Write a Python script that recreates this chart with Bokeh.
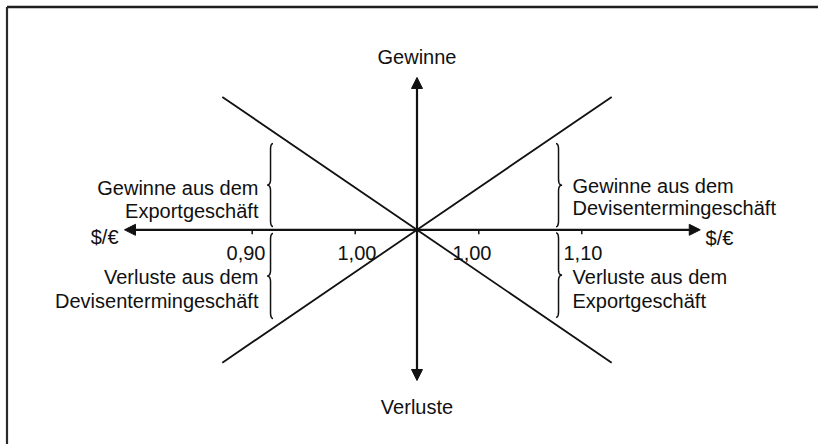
import numpy as np
from bokeh.plotting import figure
from bokeh.models import Range1d, Arrow, NormalHead, ColumnDataSource
from bokeh.embed import file_html
from bokeh.resources import INLINE
from bokeh.core.properties import value

# ---- schematic data (one unit = one 0,10 step of the $/€ rate) ----
tick_labels = ["0,90", "1,00", "1,00", "1,10"]
tick_pos = [-1.6, -0.6, 0.6, 1.6]
tick_label_x = [-1.471, -0.583, 0.534, 1.422]
tick_label_align = ["right", "center", "center", "left"]

# profit/loss lines
export_x = [-1.89, 1.89]
export_y = [1.29, -1.29]
forward_x = [-1.89, 1.89]
forward_y = [-1.29, 1.29]

# axis extents
axis_x = [-2.84, 2.75]
axis_y = [-1.463, 1.479]

# axis titles
axis_titles = ["Gewinne", "Verluste", "$/€", "$/€"]
axis_title_x = [0.0, 0.0, -2.898, 2.801]
axis_title_y = [1.678, -1.722, -0.072, -0.075]
axis_title_align = ["center", "center", "right", "left"]

# area descriptions
area_text = ["Gewinne aus dem", "Exportgeschäft",
             "Gewinne aus dem", "Devisentermingeschäft",
             "Verluste aus dem", "Devisentermingeschäft",
             "Verluste aus dem", "Exportgeschäft"]
area_x = [-1.539, -1.539, 1.510, 1.510, -1.539, -1.539, 1.510, 1.510]
area_y = [0.401, 0.187, 0.430, 0.207, -0.460, -0.696, -0.463, -0.696]
area_align = ["right", "right", "left", "left", "right", "right", "left", "left"]

# braces
brace_x = [-1.422, -1.422, 1.374, 1.374]
brace_top = [0.837, -0.036, 0.837, -0.030]
brace_bot = [0.032, -0.861, 0.030, -0.850]
brace_dir = [-1, -1, 1, 1]

PX = 1.0 / 103.0  # one screen pixel in units
W, H = 818, 444
OX, OY = 416.5, 229.3  # origin position in the frame (pixels)

p = figure(width=W, height=H, output_backend="svg", toolbar_location=None,
           x_range=Range1d(-OX * PX, (W - OX) * PX),
           y_range=Range1d(-(H - OY) * PX, OY * PX),
           x_axis_type=None, y_axis_type=None, min_border=0)
p.grid.visible = False
p.outline_line_color = None
p.background_fill_color = "white"
p.border_fill_color = "white"

INK = "#111111"
FONT = value("Liberation Sans")
FS = "20px"

# frame border (top and left visible)
x0, x1 = p.x_range.start, p.x_range.end
y0, y1 = p.y_range.start, p.y_range.end
bt = (OY - 6.5) * PX
bl = (6.5 - OX) * PX
p.line([bl, x1], [bt, bt], line_color="#1e1e1e", line_width=2.6)
p.line([bl, bl], [y0, bt], line_color="#2a2a2a", line_width=2.2)

# diagonal lines
p.line(export_x, export_y, line_color=INK, line_width=1.8)
p.line(forward_x, forward_y, line_color=INK, line_width=1.8)

# axes with arrows
head = dict(size=11, fill_color=INK, line_color=INK, line_width=1)
p.add_layout(Arrow(start=NormalHead(**head), end=NormalHead(**head),
                   x_start=axis_x[0], y_start=0, x_end=axis_x[1], y_end=0,
                   line_color=INK, line_width=2.2))
p.add_layout(Arrow(start=NormalHead(**head), end=NormalHead(**head),
                   x_start=0, y_start=axis_y[0], x_end=0, y_end=axis_y[1],
                   line_color=INK, line_width=2.2))

# ticks
p.segment(x0=tick_pos, y0=[0] * len(tick_pos), x1=tick_pos,
          y1=[-4.5 * PX] * len(tick_pos), line_color=INK, line_width=1.5)


def texts(txt, xs, ys, aligns):
    for al in sorted(set(aligns)):
        idx = [i for i, a in enumerate(aligns) if a == al]
        src = ColumnDataSource(dict(x=[xs[i] for i in idx], y=[ys[i] for i in idx],
                                    t=[txt[i] for i in idx]))
        p.text(x="x", y="y", text="t", source=src, text_align=al,
               text_baseline="alphabetic", text_font=FONT, text_font_size=FS,
               text_color=INK)


texts(tick_labels, tick_label_x, [-0.230] * 4, tick_label_align)
texts(axis_titles, axis_title_x, axis_title_y, axis_title_align)
texts(area_text, area_x, area_y, area_align)


# curly braces
def quad(a, c, b, n=10):
    t = np.linspace(0, 1, n)[:, None]
    a, c, b = np.array(a), np.array(c), np.array(b)
    return (1 - t) ** 2 * a + 2 * (1 - t) * t * c + t ** 2 * b


bx, by = [], []
for xs, yt, yb, d in zip(brace_x, brace_top, brace_bot, brace_dir):
    hx, pt, r = 2.5 * PX, 3.5 * PX, 6 * PX
    ym = (yt + yb) / 2
    pts = np.vstack([
        quad((xs - d * hx, yt), (xs, yt), (xs, yt - r)),
        quad((xs, ym + r), (xs, ym), (xs + d * pt, ym)),
        quad((xs + d * pt, ym), (xs, ym), (xs, ym - r)),
        quad((xs, yb + r), (xs, yb), (xs - d * hx, yb)),
    ])
    bx.append(list(pts[:, 0]))
    by.append(list(pts[:, 1]))
p.multi_line(bx, by, line_color=INK, line_width=1.5)

open("out.html", "w").write(file_html(p, INLINE))
